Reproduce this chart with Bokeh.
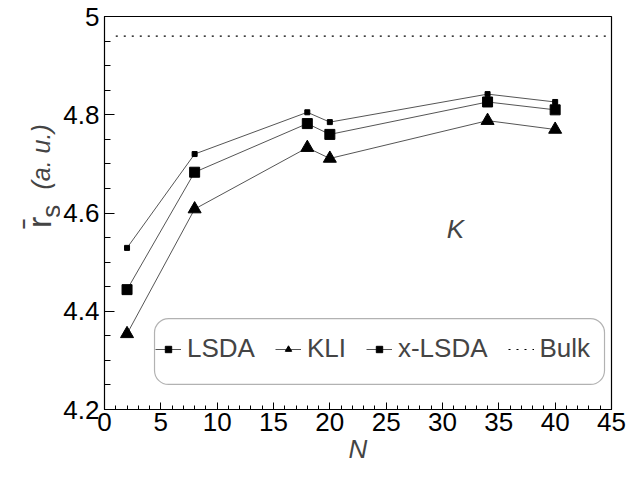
import math
from bokeh.plotting import figure
from bokeh.layouts import row
from bokeh.models import (Range1d, SingleIntervalTicker, Label, BoxAnnotation, Legend,
                          LegendItem, ColumnDataSource)
from bokeh.embed import file_html
from bokeh.resources import INLINE

# ---- data ----
N = [2, 8, 18, 20, 34, 40]
lsda = [4.529, 4.720, 4.805, 4.785, 4.842, 4.826]
kli = [4.354, 4.608, 4.733, 4.711, 4.788, 4.770]
xlsda = [4.444, 4.683, 4.782, 4.760, 4.826, 4.810]
bulk_N = [1, 45]
bulk_rs = [4.96, 4.96]
x_ticks_major = 5
y_ticks_major = 0.2

FONT = "Liberation Sans"
H = 470
LW = 60  # width of the strip holding the y-axis title

# ---- strip for the y-axis title ----
t = figure(width=LW, height=H, output_backend="svg", toolbar_location=None,
           x_range=Range1d(0, LW), y_range=Range1d(0, H),
           x_axis_location=None, y_axis_location=None,
           min_border=0)
t.grid.visible = False
t.outline_line_color = None
t.background_fill_color = "white"
t.border_fill_color = "white"
t.add_layout(Label(x=38, y=H - 253, text="r\u0304", text_font=FONT, text_font_size="34px",
                   angle=math.pi / 2, text_align="left", text_baseline="alphabetic"))
t.add_layout(Label(x=50, y=H - 225, text="s", text_font=FONT, text_font_size="26px",
                   angle=math.pi / 2, text_align="right", text_baseline="alphabetic"))
t.add_layout(Label(x=40, y=H - 207, text="(a. u.)", text_font=FONT,
                   text_font_style="italic", text_font_size="25px",
                   angle=math.pi / 2, text_align="left", text_baseline="alphabetic"))

# ---- main plot ----
p = figure(width=633 - LW, height=H, output_backend="svg", toolbar_location=None,
           x_range=Range1d(0, 45), y_range=Range1d(4.2, 5.0),
           frame_width=507, frame_height=393,
           min_border_left=102 - LW, min_border_right=24, min_border_top=16,
           min_border_bottom=61)
p.grid.visible = False
p.outline_line_color = "black"
p.outline_line_width = 1.2
p.background_fill_color = "white"
p.border_fill_color = "white"

xa = p.xaxis[0]
xa.ticker = SingleIntervalTicker(interval=x_ticks_major, num_minor_ticks=5)
xa.major_tick_in = 7
xa.major_tick_out = 0
xa.minor_tick_in = 4
xa.minor_tick_out = 0
xa.major_label_text_font = FONT
xa.major_label_text_font_size = "26px"
xa.major_label_text_color = "black"
xa.major_label_standoff = 3
xa.axis_label = "N"
xa.axis_label_text_font = FONT
xa.axis_label_text_font_style = "italic"
xa.axis_label_text_font_size = "26px"
xa.axis_label_standoff = 0
xa.axis_line_color = "black"

ya = p.yaxis[0]
ya.ticker = SingleIntervalTicker(interval=y_ticks_major, num_minor_ticks=4)
ya.major_tick_in = 10
ya.major_tick_out = 0
ya.minor_tick_in = 6
ya.minor_tick_out = 0
ya.major_label_text_font = FONT
ya.major_label_text_font_size = "26px"
ya.major_label_text_color = "black"
ya.major_label_standoff = 5
ya.axis_line_color = "black"

src = ColumnDataSource(dict(N=N, lsda=lsda, kli=kli, xlsda=xlsda))

LINE_C = "#555555"
r1 = p.line("N", "lsda", source=src, line_color=LINE_C, line_width=1)
r2 = p.line("N", "kli", source=src, line_color=LINE_C, line_width=1)
r3 = p.line("N", "xlsda", source=src, line_color=LINE_C, line_width=1)
r4 = p.line(bulk_N, bulk_rs, line_color="black", line_width=1.2, line_dash="2 6")

# markers used by the legend; drawn beneath the plot markers (fully covered)
lm1 = p.scatter("N", "lsda", source=src, marker="square", size=3,
                fill_color="black", line_color="black")
lm2 = p.scatter("N", "kli", source=src, marker="triangle", size=8,
                fill_color="black", line_color="black")
lm3 = p.scatter("N", "xlsda", source=src, marker="square", size=6,
                fill_color="black", line_color="black")

p.scatter("N", "lsda", source=src, marker="square", size=5, fill_color="black", line_color="black")
p.scatter("N", "kli", source=src, marker="triangle", size=13, fill_color="black", line_color="black")
p.scatter("N", "xlsda", source=src, marker="square", size=10, fill_color="black", line_color="black")

# legend box (rounded)
box = BoxAnnotation(left=4.44, right=44.38, bottom=4.251, top=4.385,
                    fill_alpha=0, line_color="black", line_width=1.2,
                    border_radius=14)
p.add_layout(box)

legend = Legend(items=[
    LegendItem(label="LSDA", renderers=[r1, lm1]),
    LegendItem(label="KLI", renderers=[r2, lm2]),
    LegendItem(label="x-LSDA", renderers=[r3, lm3]),
    LegendItem(label="Bulk", renderers=[r4]),
], orientation="horizontal", location=(47, 41),
    label_text_font=FONT, label_text_font_size="26px",
    glyph_width=26, glyph_height=16, label_standoff=6, spacing=20,
    padding=4, margin=0, border_line_alpha=0, background_fill_alpha=0)
p.add_layout(legend)

# K annotation
p.add_layout(Label(x=31.15, y=4.568, text="K", text_font=FONT, text_font_style="italic",
                   text_font_size="26px", text_align="center", text_baseline="middle"))

layout = row(t, p)
open("out.html", "w").write(file_html(layout, INLINE))
